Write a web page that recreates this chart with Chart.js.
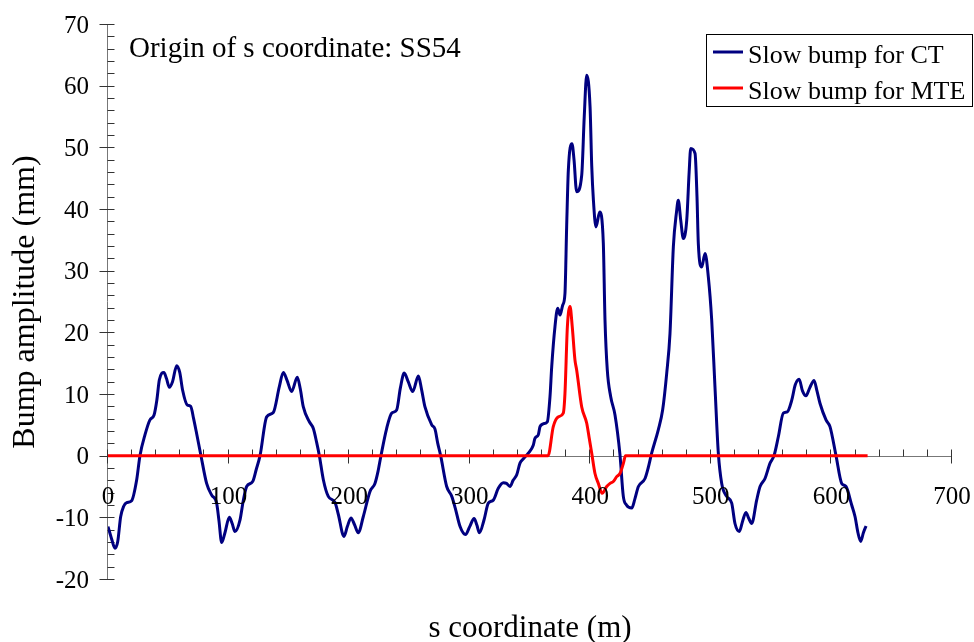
<!DOCTYPE html>
<html>
<head>
<meta charset="utf-8">
<script src="https://cdn.jsdelivr.net/npm/chart.js@4/dist/chart.umd.min.js"></script>
<style>
html,body{margin:0;padding:0;background:#fff;}
#wrap{width:974px;height:642px;position:relative;}
</style>
</head>
<body>
<div id="wrap"><canvas id="c" width="974" height="642"></canvas></div>
<script>
// ---- data ----
const seriesNames = ["Slow bump for CT", "Slow bump for MTE"];
const sCT = [0,3,5.8,8,10.5,13,15.5,19.6,23.8,26.5,30.7,34.8,38.2,40.5,42.6,46.4,48.5,50.9,53.5,57,59.5,61.9,65.8,68.6,71,73.5,77.1,81.8,86,90.1,92,94.3,97,100.6,103,105.3,109.5,112,115,120,123,126.1,131.6,137.1,142.1,145.4,148.5,152.3,157,159.5,162,167,170.3,173,175.3,178.6,182.7,188.3,191,195.7,198.5,201.5,204.5,207.6,211.7,217.3,221.4,224,226.4,231.1,235.3,239.4,242.5,245.7,249,252.7,257.4,260,262.9,268.5,271.2,273.5,275.9,280.9,285.1,288,292,296.5,300,303.6,306,308,311.9,315.4,319.6,323.7,327.9,330.5,333.4,336,339,341.7,344.5,348.6,352.7,354.1,356.9,358.3,361.6,364.4,366.6,368,370.7,373,374.9,377.1,379,380.4,381.8,384.8,386.5,388.7,392.9,395,397,399.8,401.2,402.6,404.7,407.8,410.8,412.2,414.1,416.9,420.5,424.6,427.4,430,434.4,437,439.9,445.4,448,450.9,456.4,460,463.4,466.1,468.9,471.5,473,475,477.2,480,482,483.3,486.9,488.5,489.6,492.4,495.2,497.9,500.7,503.4,506.2,509,513.1,517.3,520,523.6,526.5,529.1,531.5,533.9,538,540.8,544.9,549.1,552.4,556,560.1,563.4,567.1,570,573.2,576,578.9,582,585.6,588,590.5,595.5,598.8,603.8,608.5,612.1,616.8,619.6,622,624.3,626.5,628.7];
const vCT = [-11.5,-13.5,-15.0,-14,-9.9,-8.2,-7.6,-7.3,-3.9,0,3.4,5.8,6.6,9,12.3,13.5,12.5,11.1,12,14.6,13.5,10.6,8.2,8.0,6,3.6,0,-4.5,-6.4,-7.7,-10.5,-14.1,-12.5,-10.0,-11,-12.3,-10.4,-7.5,-5.0,-4.2,-2.2,0,6.3,7.0,11.2,13.5,12.2,10.4,12.7,10.8,7.9,5.5,4.4,2.2,0,-3.9,-6.6,-7.6,-9.5,-13.1,-11.5,-10.1,-11.2,-12.5,-9.9,-5.8,-4.5,-2.5,0,4.4,6.9,7.4,11,13.4,12,10.4,12.9,10.8,7.9,5.0,4.3,2,0,-5.0,-6.6,-8.5,-11.5,-12.8,-11.5,-10.2,-11.3,-12.5,-10.4,-7.7,-7.2,-5.3,-4.4,-4.5,-5.0,-4,-3.1,-1.2,-0.5,0.4,1.7,2.8,3.4,4.7,5.2,5.5,9.6,14.4,20.9,23.9,22.8,24.4,26.3,37.1,46.3,50.6,48,42.8,45.5,55,61.7,56.6,47,41.4,37.1,39.5,34.5,22.0,13.9,9.6,6.6,0.2,-6.6,-8,-8.5,-7,-5.0,-3.7,-2,0.4,4.2,7.4,13.4,19.8,33.9,39.5,41.4,38.2,35.2,38.2,46,49.8,49.0,42,34.4,30.6,32.8,29.0,22.0,11.2,0.4,-4.5,-6.6,-7.7,-11.0,-12.3,-10.5,-9.2,-10.2,-11.0,-7.2,-5.0,-3.7,-1.2,0,3.1,6.9,7.1,9.0,11.5,12.4,10.5,9.7,11,12.2,10.5,8.5,5.8,4.7,0,-4.5,-5.0,-8.0,-9.9,-12.5,-13.9,-12.5,-11.4];
const sMTE = [0,365,369.3,373.5,377.6,379,381,383.2,385,387.3,388.7,392.9,397,399,401.2,403.9,406.7,409.8,413.6,416.4,419.1,421.9,424.6,427.5,429.2,630];
const vMTE = [0,0,4.7,6.3,6.9,10.1,20.9,24.2,21,15.5,13.9,7.9,5.3,3,0.4,-2.9,-4.5,-6.1,-5.0,-4.5,-4.2,-3.4,-2.9,-1.2,0,0];
const xTickValues = [0,100,200,300,400,500,600,700];
const yTickValues = [-20,-10,0,10,20,30,40,50,60,70];
const xTitle = "s coordinate (m)";
const yTitle = "Bump amplitude (mm)";
const note = "Origin of s coordinate: SS54";
const colors = ["#000080", "#ff0000"];

const toPts = (xs, ys) => xs.map((x, i) => ({x: x, y: ys[i]}));
const FONT = '"Liberation Serif", "Times New Roman", serif';

const decor = {
  id: 'decor',
  beforeDatasetsDraw(chart) {
    const ctx = chart.ctx, x = chart.scales.x, y = chart.scales.y;
    const xa = Math.round(x.getPixelForValue(0)) - 0.5;
    const ya = Math.round(y.getPixelForValue(0)) + 0.5;
    ctx.save();
    ctx.lineWidth = 1;
    // axis lines
    ctx.strokeStyle = '#777';
    ctx.beginPath();
    ctx.moveTo(xa, y.getPixelForValue(70)); ctx.lineTo(xa, y.getPixelForValue(-20));
    ctx.moveTo(x.getPixelForValue(0), ya); ctx.lineTo(x.getPixelForValue(700), ya);
    ctx.stroke();
    // ticks
    ctx.strokeStyle = '#333';
    ctx.beginPath();
    for (let v = -20; v <= 70; v += 2) {
      const p = Math.round(y.getPixelForValue(v)) + 0.5;
      const major = v % 10 === 0;
      ctx.moveTo(xa - (major ? 8 : 0), p); ctx.lineTo(xa + 7, p);
    }
    for (let v = 0; v <= 700; v += 20) {
      const p = Math.round(x.getPixelForValue(v)) - 0.5;
      const major = v % 100 === 0;
      ctx.moveTo(p, ya - 7); ctx.lineTo(p, ya + (major ? 7 : 0));
    }
    ctx.stroke();
    ctx.restore();
  },
  afterDraw(chart) {
    const ctx = chart.ctx, x = chart.scales.x, y = chart.scales.y;
    ctx.save();
    ctx.fillStyle = '#000';
    // y tick labels
    ctx.font = '25px ' + FONT;
    ctx.textAlign = 'right'; ctx.textBaseline = 'middle';
    yTickValues.forEach(v => ctx.fillText(String(v), 89, y.getPixelForValue(v) + 2));
    // x tick labels
    ctx.textAlign = 'center'; ctx.textBaseline = 'alphabetic';
    xTickValues.forEach(v => ctx.fillText(String(v), x.getPixelForValue(v), y.getPixelForValue(0) + 48));
    // axis titles
    ctx.font = '31px ' + FONT;
    ctx.fillText(xTitle, 530, 637);
    ctx.save();
    ctx.translate(34, 302);
    ctx.rotate(-Math.PI / 2);
    ctx.textAlign = 'center'; ctx.textBaseline = 'alphabetic';
    ctx.font = '32px ' + FONT;
    ctx.fillText(yTitle, 0, 0);
    ctx.restore();
    // annotation
    ctx.font = '29px ' + FONT;
    ctx.textAlign = 'left'; ctx.textBaseline = 'alphabetic';
    ctx.fillText(note, 129, 57);
    // legend
    ctx.fillStyle = '#fff';
    ctx.fillRect(706, 34, 267, 72);
    ctx.strokeStyle = '#000'; ctx.lineWidth = 1;
    ctx.strokeRect(706.5, 34.5, 266, 72);
    ctx.font = '26px ' + FONT;
    ctx.fillStyle = '#000';
    const rows = [52, 88];
    seriesNames.forEach((n, i) => {
      ctx.strokeStyle = colors[i]; ctx.lineWidth = 3;
      ctx.beginPath(); ctx.moveTo(713, rows[i]); ctx.lineTo(743, rows[i]); ctx.stroke();
      ctx.fillText(n, 748, rows[i] + 11);
    });
    ctx.restore();
  }
};

new Chart(document.getElementById('c'), {
  type: 'scatter',
  data: {
    datasets: [
      {label: seriesNames[0], data: toPts(sCT, vCT), showLine: true, borderColor: colors[0], backgroundColor: colors[0], borderWidth: 3, pointRadius: 0, cubicInterpolationMode: 'monotone', order: 1},
      {label: seriesNames[1], data: toPts(sMTE, vMTE), showLine: true, borderColor: colors[1], backgroundColor: colors[1], borderWidth: 3, pointRadius: 0, cubicInterpolationMode: 'monotone', order: 0}
    ]
  },
  options: {
    responsive: false,
    animation: false,
    devicePixelRatio: 1,
    layout: {padding: {left: 108, right: 22, top: 24, bottom: 63}},
    scales: {
      x: {type: 'linear', min: 0, max: 700, display: false},
      y: {type: 'linear', min: -20, max: 70, display: false}
    },
    plugins: {legend: {display: false}, tooltip: {enabled: false}}
  },
  plugins: [decor]
});
</script>
</body>
</html>
